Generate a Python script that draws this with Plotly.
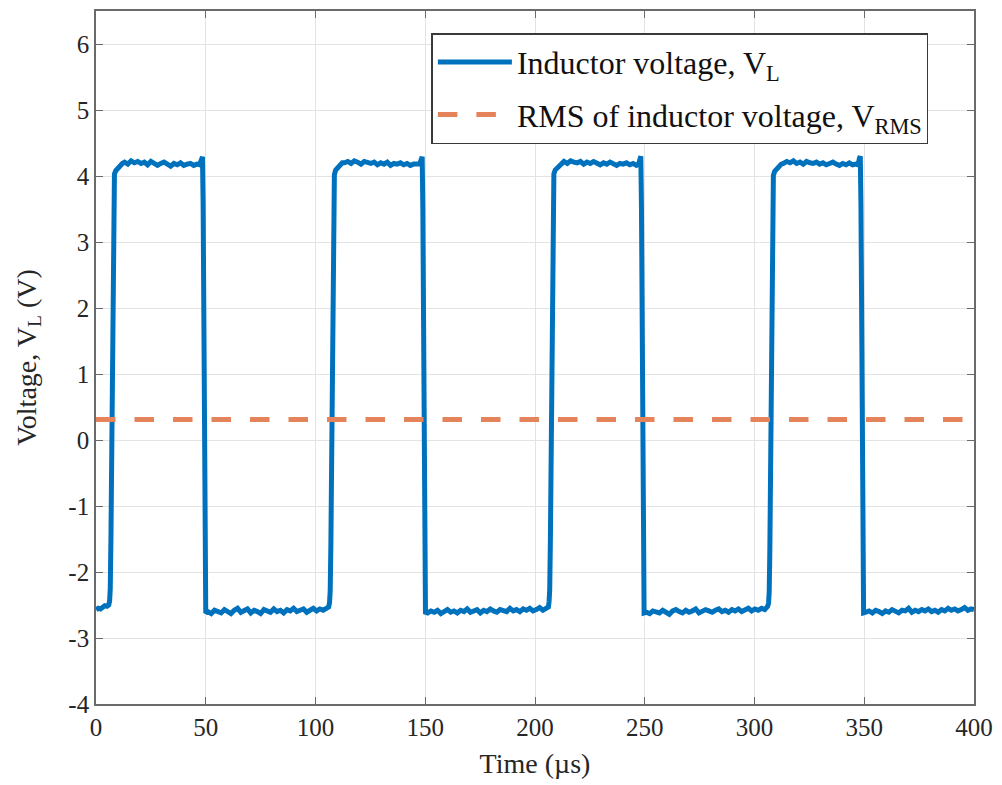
import plotly.graph_objects as go

# ---------------- data (µs, V) ----------------
t_low0 = [0, 1, 2, 3, 4, 5, 5.8]
v_low0 = [-2.57, -2.55, -2.56, -2.53, -2.51, -2.52, -2.50]

t_up1 = [6.2, 6.5, 6.8, 7.1, 7.4, 7.7, 8.0, 8.4, 9.0, 10.0, 11.0, 12.0]
v_up1 = [-2.44, -2.25, -1.5, -0.1, 1.5, 2.9, 3.75, 4.03, 4.08, 4.12, 4.16, 4.19]
t_high1 = [13, 14.5, 16, 17.5, 19, 20.5, 22, 23.5, 25, 26.5, 28, 29.5, 31, 32.5, 34,
           35.5, 37, 38.5, 40, 41.5, 43, 44.5, 46, 47.2, 48.0, 48.5]
v_high1 = [4.21, 4.18, 4.23, 4.20, 4.22, 4.19, 4.21, 4.17, 4.22, 4.20, 4.16, 4.19, 4.21,
           4.18, 4.15, 4.19, 4.17, 4.20, 4.16, 4.18, 4.19, 4.16, 4.18, 4.17, 4.26, 4.29]
t_down1 = [48.8, 49.1, 49.4, 49.7, 50.0]
v_down1 = [3.6, 1.0, -1.5, -2.45, -2.62]
t_low1 = [51, 52.5, 54, 55.5, 57, 58.5, 60, 61.5, 63, 64.5, 66, 67.5, 69, 70.5, 72, 73.5,
          75, 76.5, 78, 79.5, 81, 82.5, 84, 85.5, 87, 88.5, 90, 91.5, 93, 94.5, 96, 97.5,
          99, 100.5, 102, 103.5, 105, 106.0]
v_low1 = [-2.60, -2.63, -2.58, -2.61, -2.62, -2.57, -2.60, -2.63, -2.58, -2.55, -2.61, -2.59,
          -2.56, -2.62, -2.58, -2.60, -2.63, -2.57, -2.59, -2.61, -2.56, -2.60, -2.58, -2.62,
          -2.57, -2.59, -2.55, -2.60, -2.58, -2.56, -2.61, -2.57, -2.55, -2.59, -2.56, -2.58,
          -2.55, -2.53]

t_up2 = [106.4, 106.7, 107.0, 107.3, 107.6, 107.9, 108.2, 108.6, 109.2, 110.2, 111.2, 112.2]
v_up2 = [-2.46, -2.28, -1.6, -0.2, 1.4, 2.8, 3.7, 4.02, 4.09, 4.13, 4.17, 4.20]
t_high2 = [113.2, 114.7, 116.2, 117.7, 119.2, 120.7, 122.2, 123.7, 125.2, 126.7, 128.2, 129.7,
           131.2, 132.7, 134.2, 135.7, 137.2, 138.7, 140.2, 141.7, 143.2, 144.7, 146.2, 147.4,
           148.2, 148.6]
v_high2 = [4.20, 4.22, 4.19, 4.23, 4.21, 4.18, 4.22, 4.20, 4.19, 4.21, 4.17, 4.20, 4.18,
           4.21, 4.16, 4.19, 4.18, 4.20, 4.17, 4.19, 4.16, 4.18, 4.17, 4.18, 4.25, 4.29]
t_down2 = [148.9, 149.2, 149.5, 149.8, 150.1]
v_down2 = [3.5, 0.9, -1.6, -2.47, -2.61]
t_low2 = [151.1, 152.6, 154.1, 155.6, 157.1, 158.6, 160.1, 161.6, 163.1, 164.6, 166.1, 167.6,
          169.1, 170.6, 172.1, 173.6, 175.1, 176.6, 178.1, 179.6, 181.1, 182.6, 184.1, 185.6,
          187.1, 188.6, 190.1, 191.6, 193.1, 194.6, 196.1, 197.6, 199.1, 200.6, 202.1, 203.6,
          205.1, 206.1]
v_low2 = [-2.62, -2.59, -2.61, -2.58, -2.63, -2.60, -2.57, -2.61, -2.59, -2.62, -2.58, -2.60,
          -2.56, -2.61, -2.59, -2.57, -2.62, -2.58, -2.60, -2.56, -2.59, -2.61, -2.57, -2.58,
          -2.60, -2.55, -2.59, -2.57, -2.60, -2.56, -2.58, -2.55, -2.59, -2.57, -2.54, -2.58,
          -2.56, -2.53]

t_up3 = [206.4, 206.7, 207.0, 207.3, 207.6, 207.9, 208.2, 208.6, 209.2, 210.2, 211.2, 212.2]
v_up3 = [-2.45, -2.27, -1.55, -0.15, 1.45, 2.85, 3.72, 4.03, 4.09, 4.12, 4.16, 4.19]
t_high3 = [213.2, 214.7, 216.2, 217.7, 219.2, 220.7, 222.2, 223.7, 225.2, 226.7, 228.2, 229.7,
           231.2, 232.7, 234.2, 235.7, 237.2, 238.7, 240.2, 241.7, 243.2, 244.7, 246.2, 247.2,
           247.8, 248.2]
v_high3 = [4.22, 4.19, 4.23, 4.21, 4.20, 4.22, 4.18, 4.21, 4.19, 4.22, 4.20, 4.17, 4.20,
           4.18, 4.21, 4.19, 4.16, 4.19, 4.18, 4.20, 4.17, 4.19, 4.16, 4.18, 4.26, 4.30]
t_down3 = [248.5, 248.8, 249.1, 249.4, 249.7]
v_down3 = [3.55, 0.95, -1.55, -2.46, -2.62]
t_low3 = [250.7, 252.2, 253.7, 255.2, 256.7, 258.2, 259.7, 261.2, 262.7, 264.2, 265.7, 267.2,
          268.7, 270.2, 271.7, 273.2, 274.7, 276.2, 277.7, 279.2, 280.7, 282.2, 283.7, 285.2,
          286.7, 288.2, 289.7, 291.2, 292.7, 294.2, 295.7, 297.2, 298.7, 300.2, 301.7, 303.2,
          304.7, 306.0]
v_low3 = [-2.61, -2.63, -2.59, -2.60, -2.62, -2.58, -2.61, -2.64, -2.59, -2.57, -2.60, -2.62,
          -2.58, -2.61, -2.59, -2.56, -2.62, -2.60, -2.57, -2.59, -2.61, -2.58, -2.56, -2.60,
          -2.58, -2.61, -2.57, -2.59, -2.56, -2.60, -2.57, -2.55, -2.59, -2.56, -2.58, -2.55,
          -2.57, -2.52]

t_up4 = [306.4, 306.7, 307.0, 307.3, 307.6, 307.9, 308.2, 308.6, 309.2, 310.2, 311.2, 312.2]
v_up4 = [-2.47, -2.30, -1.65, -0.25, 1.35, 2.75, 3.68, 4.01, 4.07, 4.11, 4.15, 4.18]
t_high4 = [313.2, 314.7, 316.2, 317.7, 319.2, 320.7, 322.2, 323.7, 325.2, 326.7, 328.2, 329.7,
           331.2, 332.7, 334.2, 335.7, 337.2, 338.7, 340.2, 341.7, 343.2, 344.7, 346.2, 347.2,
           347.8, 348.2]
v_high4 = [4.19, 4.22, 4.20, 4.23, 4.19, 4.21, 4.18, 4.22, 4.20, 4.19, 4.21, 4.18, 4.20,
           4.17, 4.19, 4.21, 4.18, 4.16, 4.19, 4.17, 4.20, 4.17, 4.18, 4.17, 4.27, 4.30]
t_down4 = [348.5, 348.8, 349.1, 349.4, 349.7]
v_down4 = [3.55, 0.9, -1.6, -2.47, -2.62]
t_low4 = [350.7, 352.2, 353.7, 355.2, 356.7, 358.2, 359.7, 361.2, 362.7, 364.2, 365.7, 367.2,
          368.7, 370.2, 371.7, 373.2, 374.7, 376.2, 377.7, 379.2, 380.7, 382.2, 383.7, 385.2,
          386.7, 388.2, 389.7, 391.2, 392.7, 394.2, 395.7, 397.2, 398.7, 400]
v_low4 = [-2.61, -2.59, -2.62, -2.58, -2.60, -2.63, -2.59, -2.61, -2.57, -2.60, -2.62, -2.58,
          -2.59, -2.55, -2.61, -2.58, -2.60, -2.57, -2.59, -2.56, -2.60, -2.58, -2.61, -2.57,
          -2.59, -2.55, -2.58, -2.56, -2.59, -2.57, -2.54, -2.58, -2.56, -2.57]

rms_time = [0, 400]
rms_value = [0.31, 0.31]

x_ticks = [0, 50, 100, 150, 200, 250, 300, 350, 400]
x_tick_labels = ["0", "50", "100", "150", "200", "250", "300", "350", "400"]
y_ticks = [-4, -3, -2, -1, 0, 1, 2, 3, 4, 5, 6]
y_tick_labels = ["-4", "-3", "-2", "-1", "0", "1", "2", "3", "4", "5", "6"]

time_us = (t_low0 + t_up1 + t_high1 + t_down1 + t_low1 + t_up2 + t_high2 + t_down2 + t_low2
           + t_up3 + t_high3 + t_down3 + t_low3 + t_up4 + t_high4 + t_down4 + t_low4)
v_l = (v_low0 + v_up1 + v_high1 + v_down1 + v_low1 + v_up2 + v_high2 + v_down2 + v_low2
       + v_up3 + v_high3 + v_down3 + v_low3 + v_up4 + v_high4 + v_down4 + v_low4)

FONT = "Liberation Serif, Times New Roman, serif"
AXC = "#6a6a6a"

fig = go.Figure()
fig.add_trace(go.Scatter(
    x=time_us, y=v_l, mode="lines",
    line=dict(color="#0072BD", width=5),
    name="Inductor voltage, V<sub>L</sub>", legendgroup="a",
))
fig.add_trace(go.Scatter(
    x=rms_time, y=rms_value, mode="lines",
    line=dict(color="#E5845A", width=5, dash="19.5px,19px"),
    name="RMS of inductor voltage, V<sub>RMS</sub>", legendgroup="b",
))

axis_common = dict(
    showline=True, linecolor=AXC, linewidth=1.6, mirror="ticks",
    ticks="inside", ticklen=7, tickwidth=1.3, tickcolor=AXC,
    showgrid=True, gridcolor="#e3e3e3", gridwidth=1,
    zeroline=False,
    tickfont=dict(family=FONT, size=25, color="#262626"),
)

fig.update_xaxes(
    range=[0, 400], tickvals=x_ticks, ticktext=x_tick_labels,
    title=dict(text="Time (µs)", font=dict(family=FONT, size=28, color="#262626"), standoff=14),
    **axis_common,
)
fig.update_yaxes(
    range=[-4, 6.5], tickvals=y_ticks, ticktext=y_tick_labels,
    title=dict(text="Voltage, V<sub>L</sub> (V)", font=dict(family=FONT, size=28, color="#262626"),
               standoff=24),
    **axis_common,
)

fig.update_layout(
    width=1002, height=785,
    margin=dict(l=96, r=26, t=9, b=81),
    paper_bgcolor="white", plot_bgcolor="white",
    showlegend=True,
    legend=dict(
        x=0.382, y=0.968, xanchor="left", yanchor="top",
        bgcolor="white", bordercolor="#3a3a3a", borderwidth=1.5,
        font=dict(family=FONT, size=32, color="#111111"),
        itemwidth=74, tracegroupgap=8, traceorder="grouped",
    ),
)

fig.write_html("out.html")
